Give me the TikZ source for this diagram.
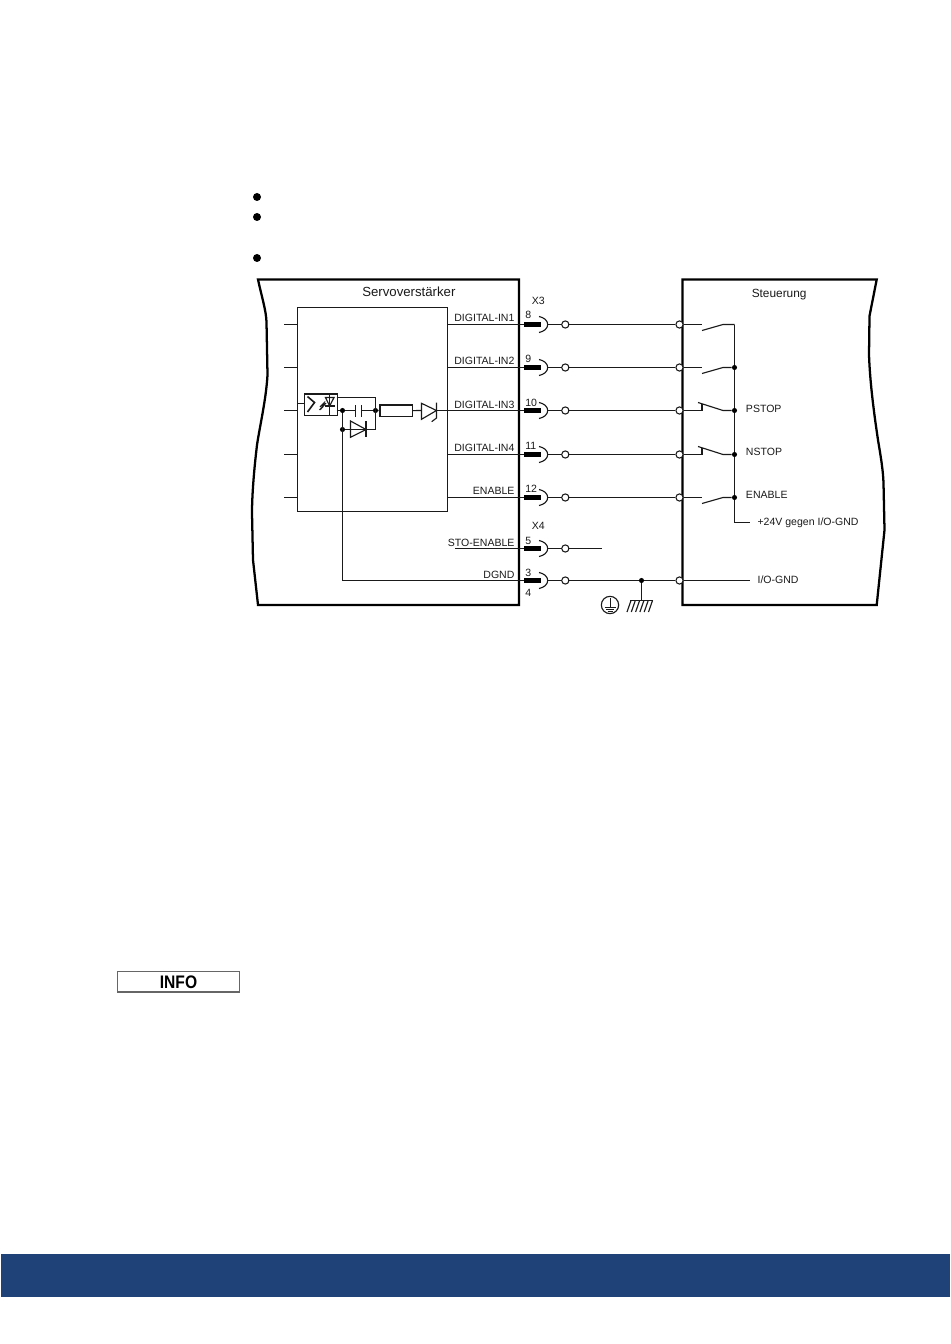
\documentclass[tikz,border=0pt]{standalone}
\usepackage{fontspec}
\setmainfont{Liberation Sans}
\definecolor{band}{HTML}{1F4279}
\definecolor{ink}{HTML}{1A1A1A}
\tikzset{
  wire/.style={draw=ink,line width=0.85pt},
  heavy/.style={draw=black,line width=1.7pt,line join=miter},
  pinbar/.style={draw=black,line width=3.2pt},
  term/.style={circle,draw=ink,fill=white,line width=0.8pt,inner sep=0pt,minimum size=5.4pt},
  jdot/.style={circle,fill=black,inner sep=0pt,minimum size=3.8pt},
  lab/.style={inner sep=0pt,text=ink,font=\fontsize{7.9}{9}\selectfont},
  labl/.style={lab,anchor=base west},
  labr/.style={lab,anchor=base east},
  bullet/.style={circle,fill=black,inner sep=0pt,minimum size=6pt},
}
\begin{document}
\begin{tikzpicture}[x=0.75pt,y=-0.75pt]
\useasboundingbox (0,0) rectangle (950,1344);
\fill[white] (0,0) rectangle (950,1344);
% page furniture
\fill[band] (1,1254) rectangle (950,1297);
\node[bullet] (b1) at (257,197) {};
\node[bullet] (b2) at (257,217) {};
\node[bullet] (b3) at (257,258) {};
\draw[draw=black!60,line width=0.8pt] (117.5,971.5) rectangle (239.5,992);
\node[inner sep=0pt,font=\fontsize{13.6}{15}\selectfont\bfseries,xscale=0.86] (info) at (178.5,982) {INFO};
% outlines
\draw[heavy] (519,279.5) -- (258,279.5) .. controls (262,298) and (266,310) .. (266.5,322)
  -- (267.5,375) .. controls (266,400) and (260,425) .. (257,445)
  .. controls (254,470) and (252,495) .. (252,513) -- (253,560) -- (258,605) -- (519,605) -- cycle;
\draw[heavy] (682.5,279.5) -- (876.7,279.5) -- (869.5,316) -- (869,355)
  .. controls (870,385) and (875,420) .. (878,440)
  .. controls (881,458) and (883,470) .. (883.5,483) -- (884.5,530) -- (876.7,605) -- (682.5,605) -- cycle;
\node[lab,anchor=base west,font=\fontsize{9.9}{11}\selectfont] (servo) at (362,296.7) {Servoverstärker};
\node[lab,anchor=base west,font=\fontsize{8.9}{10}\selectfont] (steu) at (751.5,297.3) {Steuerung};
% inner block
\draw[wire] (297.5,307.5) rectangle (447.5,511.5);
\foreach \n/\y in {1/324.5,2/367.5,3/410.5,4/454.5,5/497.5}{
  \coordinate (sa\n) at (284,\y);
  \coordinate (sb\n) at (297,\y);
  \draw[wire] (sa\n) -- (sb\n);
}
% pins and terminals
\foreach \n/\y in {1/324.5,2/367.5,3/410.5,4/454.5,5/497.5,6/548.5,7/580.5}{
  \coordinate (pa\n) at (524,\y);
  \coordinate (pb\n) at (541,\y);
  \coordinate (pc\n) at (547.7,\y);
  \node[term] (t\n) at (565.3,\y) {};
  \draw[wire] (pc\n) -- (t\n);
  \draw[pinbar] (pa\n) -- (pb\n);
  \draw[wire] (539,\y-8) .. controls (544,\y-7) and (547.7,\y-4) .. (pc\n)
     .. controls (547.7,\y+4) and (544,\y+7) .. (539,\y+8);
}
\foreach \n/\y in {1/324.5,2/367.5,3/410.5,4/454.5,5/497.5}{
  \coordinate (ib\n) at (447.5,\y);
  \draw[wire] (ib\n) -- (pa\n);
  \node[term] (u\n) at (679.5,\y) {};
  \draw[wire] (t\n) -- (u\n);
}
\node[term] (u7) at (679.5,580.5) {};
\draw[wire] (t7) -- (u7);
\coordinate (x4end) at (601.7,548.5);
\draw[wire] (t6) -- (x4end);
\coordinate (stoa) at (455,548.5);
\draw[wire] (stoa) -- (pa6);
% labels left
\node[labr] (l1) at (514.7,321) {DIGITAL-IN1};
\node[labr] (l2) at (514.7,364.5) {DIGITAL-IN2};
\node[labr] (l3) at (514.7,408) {DIGITAL-IN3};
\node[labr] (l4) at (514.7,451) {DIGITAL-IN4};
\node[labr] (l5) at (514.7,494.7) {ENABLE};
\node[labr] (l6) at (514.7,546.3) {STO-ENABLE};
\node[labr] (l7) at (514.7,578.3) {DGND};
% pin numbers
\node[labl] (n8) at (525,319) {8};
\node[labl] (n9) at (525,362.7) {9};
\node[labl] (n10) at (525,406) {10};
\node[labl] (n11) at (525,449) {11};
\node[labl] (n12) at (525,492.7) {12};
\node[labl] (n5) at (525,544.3) {5};
\node[labl] (n3) at (525,576) {3};
\node[labl] (n4) at (525,596.7) {4};
\node[labl] (x3) at (531.5,304.3) {X3};
\node[labl] (x4) at (531.5,529.3) {X4};
% control side: rail and switches
\coordinate (rtop) at (734.5,324.5);
\coordinate (rend) at (734.5,522.5);
\coordinate (r24) at (750,522.5);
\draw[wire] (rtop) -- (rend) -- (r24);
\node[jdot] (j2) at (734.5,367.5) {};
\node[jdot] (j3) at (734.5,410.5) {};
\node[jdot] (j4) at (734.5,454.5) {};
\node[jdot] (j5) at (734.5,497.5) {};
% normally open
\foreach \n/\y/\j in {1/324.5/rtop,2/367.5/j2,5/497.5/j5}{
  \coordinate (swa\n) at (702,\y);
  \coordinate (swb\n) at (702,\y+6);
  \coordinate (swc\n) at (723,\y);
  \draw[wire] (u\n) -- (swa\n);
  \draw[wire] (swb\n) -- (swc\n) -- (\j);
}
% normally closed
\foreach \n/\y/\j in {3/410.5/j3,4/454.5/j4}{
  \coordinate (swa\n) at (702,\y);
  \coordinate (swb\n) at (702,\y-7);
  \coordinate (swd\n) at (698,\y-8);
  \coordinate (swc\n) at (723,\y);
  \draw[wire] (u\n) -- (swa\n) -- (swb\n);
  \draw[wire] (swd\n) -- (swc\n) -- (\j);
}
\coordinate (ioend) at (750,580.5);
\draw[wire] (u7) -- (ioend);
\node[labl] (ps) at (745.7,412) {PSTOP};
\node[labl] (ns) at (745.7,455.3) {NSTOP};
\node[labl] (en) at (745.7,498.7) {ENABLE};
\node[labl] (v24) at (757.3,525.3) {+24V gegen I/O-GND};
\node[labl] (iog) at (757.3,583.3) {I/O-GND};
% earth
\node[jdot] (je) at (641.5,580.5) {};
\coordinate (ge) at (641.5,600.5);
\draw[wire] (je) -- (ge);
\draw[wire] (630,600.5) -- (652.5,600.5);
\foreach \x in {631,635.3,639.6,643.9,648.2,652.5}
  \draw[wire] (\x,600.5) -- (\x-4,612);
\node[circle,draw=ink,line width=0.85pt,inner sep=0pt,minimum size=13pt] (pe) at (610,605) {};
\draw[wire] (610.5,598) -- (610.5,607.5);
\draw[wire] (604.5,607.5) -- (615.5,607.5);
\draw[wire] (606,609.5) -- (614,609.5);
\draw[wire] (607.5,611.5) -- (612.5,611.5);
% input circuit
\node[draw=ink,line width=1.1pt,inner sep=0pt,minimum width=24.6pt,minimum height=16pt,anchor=north west] (opto) at (304,393.3) {};
\coordinate (ostub) at (298,403.5);
\coordinate (obox) at (304,403.5);
\draw[wire] (ostub) -- (obox);
\draw[draw=ink,line width=1.2pt] (307.5,396.5) -- (314.5,402.5) -- (307.5,412);
\draw[wire] (325.5,397.5) -- (334,397.5) -- (329.7,406) -- cycle;
\draw[wire] (325,406) -- (334.5,406);
\draw[wire] (329.7,394) -- (329.7,414.5);
\draw[wire] (320,407) -- (324,403) -- (322.5,407) -- (326,403);
\draw[wire] (319.5,410) -- (323,406.5);
\node[jdot] (ja) at (342.5,410.5) {};
\node[jdot] (jb) at (375.5,410.5) {};
\node[jdot] (jc) at (342.5,429.5) {};
\coordinate (ocu) at (336.7,397.5);
\coordinate (ocr) at (336.7,410.5);
\coordinate (cu) at (375.5,397.5);
\coordinate (cd) at (375.5,429.5);
\draw[wire] (ocu) -- (cu) -- (cd) -- (jc);
\draw[wire] (ocr) -- (ja);
\coordinate (c1) at (355.5,410.5);
\coordinate (c2) at (361.5,410.5);
\draw[wire] (ja) -- (c1);
\draw[wire] (c2) -- (jb);
\draw[wire] (355.5,405) -- (355.5,417);
\draw[wire] (361.5,405) -- (361.5,417);
\node[draw=ink,line width=1.2pt,inner sep=0pt,minimum width=24.2pt,minimum height=8.8pt] (res) at (396.2,410.8) {};
\draw[wire] (jb) -- (res);
\coordinate (zb) at (421.5,410.5);
\coordinate (za) at (436.5,410.5);
\draw[wire] (res) -- (zb);
\draw[wire] (421.5,403.3) -- (421.5,419.3) -- (za) -- cycle;
\draw[wire] (436.5,402.7) -- (436.5,418) -- (431.7,421.7);
\draw[wire] (za) -- (ib3);
\draw[wire] (350.5,421) -- (350.5,437.3) -- (366,429.5) -- cycle;
\draw[wire] (366,421) -- (366,437.3);
% DGND return
\coordinate (dg) at (342.5,580.5);
\draw[wire] (ja) -- (dg) -- (pa7);
\end{tikzpicture}
\end{document}
